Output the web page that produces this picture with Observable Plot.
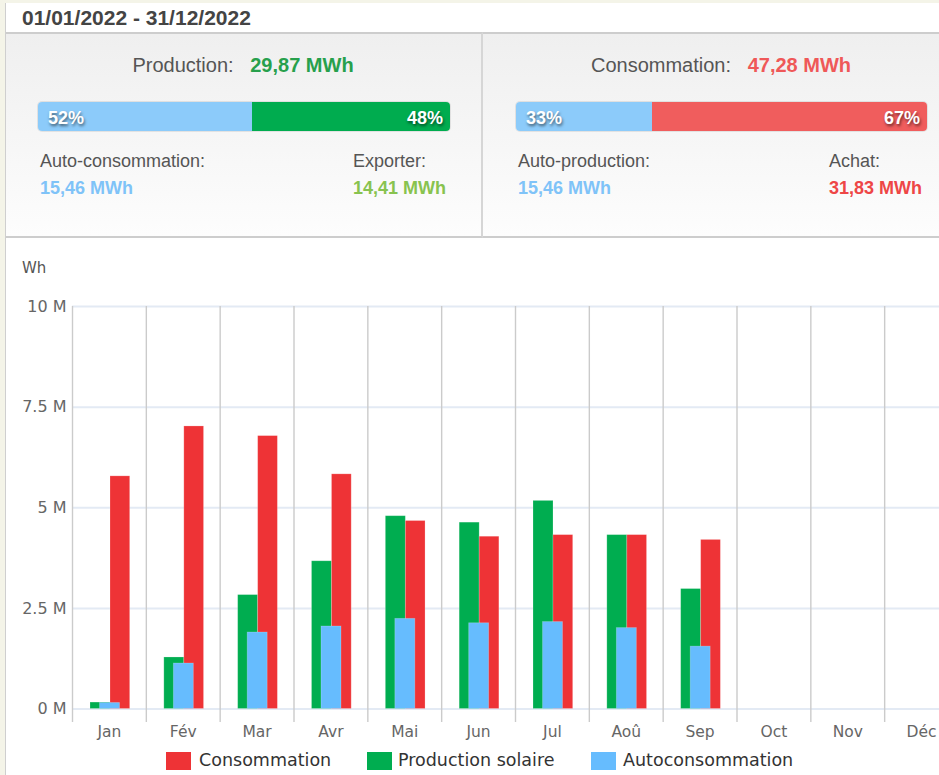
<!DOCTYPE html>
<html>
<head>
<meta charset="utf-8">
<script src="https://cdn.jsdelivr.net/npm/d3@7"></script>
<script src="https://cdn.jsdelivr.net/npm/@observablehq/plot@0.6"></script>
<style>
  html, body { margin: 0; padding: 0; }
  body { width: 939px; height: 775px; overflow: hidden; background: #f4f4e8; position: relative; font-family: "Liberation Sans", Arial, sans-serif; }
  #wrap { position: absolute; left: 5px; top: 3px; width: 960px; height: 780px; background: #fff; border-left: 1px solid #cfcfcf; }
  .abs { position: absolute; line-height: 1; white-space: nowrap; }
  .panel { position: absolute; top: 32px; height: 206px; background: linear-gradient(#efefef, #fdfdfd); border-top: 2px solid #cdcdcd; border-bottom: 2px solid #cdcdcd; box-sizing: border-box; }
  .pbar { position: absolute; top: 102px; height: 29px; border-radius: 4px; overflow: hidden; display: flex; box-shadow: 0 0 0 1px rgba(0,0,0,0.08); }
  .pct { color: #fff; font-weight: bold; font-size: 18px; text-shadow: 1px 2px 3px rgba(0,0,0,0.55); }
  .lab { color: #555; font-size: 18px; }
  .val { font-weight: bold; font-size: 18px; }
  #chart { position: absolute; left: 0; top: 238px; width: 958px; height: 512px; }
  #chart svg { max-width: none !important; }
  .leg { position: absolute; top: 752px; font-family: "DejaVu Sans", sans-serif; font-size: 17.5px; color: #333; line-height: 1; }
  .sw { position: absolute; top: 752px; width: 25px; height: 18px; }
</style>
</head>
<body>
<div id="wrap"></div>
<div class="abs" style="left:22px; top:7px; font-size:21px; font-weight:bold; color:#444;" id="title"></div>
<div class="panel" style="left:6px; width:477px; border-right:2px solid #d6d6d6;"></div>
<div class="panel" style="left:483px; width:480px;"></div>
<div id="summary"></div>
<div id="chart"></div>
<div class="abs" style="left:22px; top:261px; font-family:'DejaVu Sans',sans-serif; font-size:15px; color:#555;" id="unit"></div>
<div id="legend"></div>
<script>
// ---------- data ----------
const period = "01/01/2022 - 31/12/2022";
const unitLabel = "Wh";
const months = ["Jan","Fév","Mar","Avr","Mai","Jun","Jul","Aoû","Sep","Oct","Nov","Déc"];
const consommation = [5.78e6, 7.02e6, 6.78e6, 5.83e6, 4.67e6, 4.28e6, 4.32e6, 4.32e6, 4.20e6];
const productionSolaire = [0.16e6, 1.28e6, 2.83e6, 3.67e6, 4.79e6, 4.63e6, 5.17e6, 4.32e6, 2.98e6];
const autoconsommation = [0.15e6, 1.13e6, 1.90e6, 2.05e6, 2.24e6, 2.13e6, 2.16e6, 2.01e6, 1.55e6];
const yTicks = [0, 2.5e6, 5e6, 7.5e6, 10e6];
const seriesNames = ["Consommation", "Production solaire", "Autoconsommation"];

const prodSummary = {label: "Production:", total: "29,87 MWh", pctA: 52, pctB: 48, labA: "Auto-consommation:", valA: "15,46 MWh", labB: "Exporter:", valB: "14,41 MWh"};
const consSummary = {label: "Consommation:", total: "47,28 MWh", pctA: 33, pctB: 67, labA: "Auto-production:", valA: "15,46 MWh", labB: "Achat:", valB: "31,83 MWh"};

// ---------- colors ----------
const cRed = "#ee3336", cGreen = "#00ad50", cBlue = "#66bcfe";

// ---------- header ----------
document.getElementById("title").textContent = period;
document.getElementById("unit").textContent = unitLabel;

function summary(s, cx, barL, barR, labBx, totalColor, colB, valBColor) {
  const root = document.getElementById("summary");
  const head = document.createElement("div");
  head.className = "abs";
  head.style.cssText = `left:${cx}px; top:55px; font-size:20px; transform:translateX(-50%);`;
  head.innerHTML = `<span style="color:#555">${s.label}</span>&nbsp;&nbsp;&nbsp;<span style="color:${totalColor};font-weight:bold">${s.total}</span>`;
  root.appendChild(head);
  const bar = document.createElement("div");
  bar.className = "pbar";
  bar.style.left = barL + "px";
  bar.style.width = (barR - barL) + "px";
  bar.innerHTML = `<div style="flex:${s.pctA};background:#8ccbfa;position:relative"><span class="abs pct" style="left:10px;top:6.5px">${s.pctA}%</span></div>` +
    `<div style="flex:${s.pctB};background:${colB};position:relative"><span class="abs pct" style="right:7px;top:6.5px">${s.pctB}%</span></div>`;
  root.appendChild(bar);
  const items = [
    [barL + 2, 151.5, s.labA, "lab", null],
    [barL + 2, 179, s.valA, "val", "#7fc3f8"],
    [labBx, 151.5, s.labB, "lab", null],
    [labBx, 179, s.valB, "val", valBColor]
  ];
  for (const [x, y, t, cls, col] of items) {
    const d = document.createElement("div");
    d.className = "abs " + cls;
    d.style.left = x + "px"; d.style.top = y + "px";
    if (col) d.style.color = col;
    d.textContent = t;
    root.appendChild(d);
  }
}
summary(prodSummary, 243, 38, 450, 353, "#27a04c", "#00ac4f", "#88c34f");
summary(consSummary, 721, 516, 927, 829, "#ef5858", "#f05d5d", "#ee4646");

// ---------- chart ----------
const rows = consommation.map((v, i) => ({
  month: months[i], cons: v, prod: productionSolaire[i], auto: autoconsommation[i]
}));
const x0 = 72, x1 = 958;
const bw = (x1 - x0) / months.length;

const chart = Plot.plot({
  width: 958,
  height: 512,
  marginLeft: 72,
  marginRight: 0,
  marginTop: 68,
  marginBottom: 28,
  style: {fontFamily: "DejaVu Sans, sans-serif", color: "#666", background: "transparent", overflow: "visible", maxWidth: "none"},
  x: {domain: months, range: [x0, x1], padding: 0, round: false, label: null},
  y: {domain: [0, 10e6], range: [470.5, 68], label: null},
  marks: [
    Plot.ruleY(yTicks, {y: d => d, stroke: "#e3eaf4", strokeWidth: 2}),
    Plot.ruleX(months, {x: d => d, dx: -bw / 2, stroke: "#cbcbcb", strokeWidth: 1.4}),
    Plot.ruleX([months[months.length - 1]], {x: d => d, dx: bw / 2, stroke: "#cbcbcb", strokeWidth: 1.4}),
    Plot.barY(rows, {x: "month", y: "prod", fill: cGreen, insetLeft: 18, insetRight: bw - 38, stroke: "#fff", strokeOpacity: 0.25, strokeWidth: 0.8}),
    Plot.barY(rows, {x: "month", y: "cons", fill: cRed, insetLeft: 38, insetRight: bw - 57.7, stroke: "#fff", strokeOpacity: 0.25, strokeWidth: 0.8}),
    Plot.barY(rows, {x: "month", y: "auto", fill: cBlue, insetLeft: 27.5, insetRight: bw - 47.5, stroke: "#fff", strokeOpacity: 0.25, strokeWidth: 0.8}),
    Plot.axisY(yTicks, {tickSize: 0, tickPadding: 6, tickFormat: d => `${d / 1e6} M`, fontSize: 16, fill: "#666"}),
    Plot.axisX({tickSize: 0, tickPadding: 3, fontSize: 15.5, fill: "#666"})
  ]
});
document.getElementById("chart").appendChild(chart);

// ---------- legend ----------
const legendItems = [
  {name: seriesNames[0], color: cRed, sx: 166, tx: 199},
  {name: seriesNames[1], color: cGreen, sx: 367, tx: 398},
  {name: seriesNames[2], color: cBlue, sx: 591, tx: 623}
];
const leg = document.getElementById("legend");
for (const it of legendItems) {
  const s = document.createElement("div");
  s.className = "sw"; s.style.left = it.sx + "px"; s.style.background = it.color;
  leg.appendChild(s);
  const t = document.createElement("div");
  t.className = "leg"; t.style.left = it.tx + "px"; t.style.top = "752px";
  t.textContent = it.name;
  leg.appendChild(t);
}
</script>
</body>
</html>
